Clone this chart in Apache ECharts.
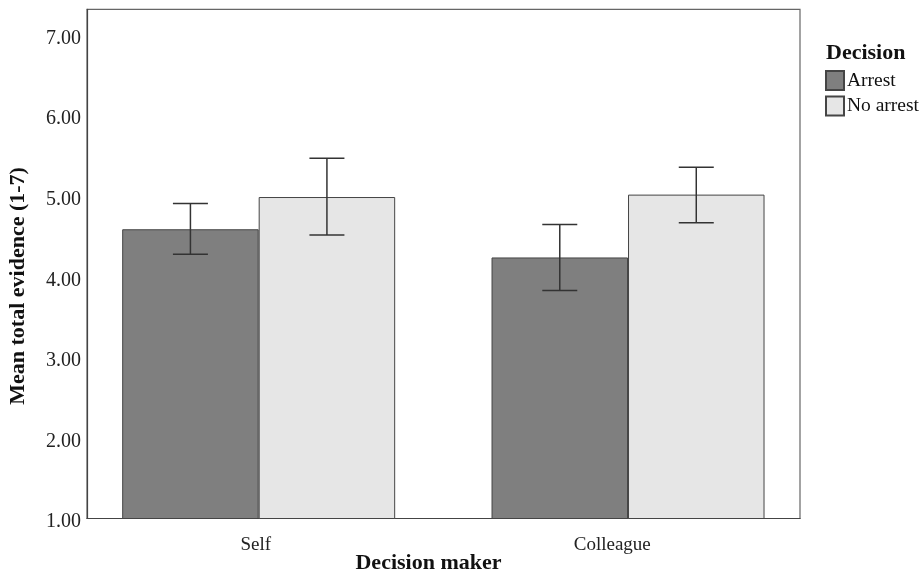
<!DOCTYPE html>
<html>
<head>
<meta charset="utf-8">
<script src="https://cdn.jsdelivr.net/npm/echarts@6/dist/echarts.min.js"></script>
<style>html,body{margin:0;padding:0;background:#fff;}#c{width:924px;height:574px;}</style>
</head>
<body>
<div id="c"></div>
<script>
const categories = ['Self', 'Colleague'];
const seriesNames = ['Arrest', 'No arrest'];
const arrestMean = [4.59, 4.24];
const arrestLow = [4.28, 3.83];
const arrestHigh = [4.91, 4.65];
const noArrestMean = [4.99, 5.02];
const noArrestLow = [4.52, 4.67];
const noArrestHigh = [5.47, 5.36];
const yMin = 1, yMax = 7.32, yInterval = 1;

const FONT = 'Liberation Serif';
const BAR_W = 136.5;

function errSeries(name, low, high, sign) {
  return {
    type: 'custom', name: name + ' err', xAxisIndex: 1, yAxisIndex: 1, z: 5,
    data: low.map((l, i) => [i, l, high[i]]),
    renderItem: function (params, api) {
      const lo = api.coord([api.value(0), api.value(1)]);
      const hi = api.coord([api.value(0), api.value(2)]);
      const x = lo[0] + sign * BAR_W / 2;
      const cap = 17.5;
      const st = { stroke: '#333', lineWidth: 1.5 };
      return { type: 'group', children: [
        { type: 'line', shape: { x1: x, y1: lo[1], x2: x, y2: hi[1] }, style: st },
        { type: 'line', shape: { x1: x - cap, y1: lo[1], x2: x + cap, y2: lo[1] }, style: st },
        { type: 'line', shape: { x1: x - cap, y1: hi[1], x2: x + cap, y2: hi[1] }, style: st }
      ]};
    }
  };
}

const chart = echarts.init(document.getElementById('c'), null, { renderer: 'canvas' });
chart.setOption({
  animation: false,
  backgroundColor: '#fff',
  textStyle: { fontFamily: FONT },
  title: {
    text: 'Decision', left: 826, top: 42, padding: 0,
    textStyle: { fontFamily: FONT, fontWeight: 'bold', fontSize: 22, color: '#111' }
  },
  legend: {
    data: seriesNames, orient: 'vertical', left: 825, top: 70,
    itemWidth: 18, itemHeight: 19, itemGap: 4.5, padding: 0,
    icon: 'rect',
    textStyle: { fontFamily: FONT, fontSize: 19.5, color: '#111', padding: [0, 0, 0, -2] }
  },
  grid: [
    { left: 87, right: 124, top: 9.3, bottom: 55.5, show: true, borderColor: '#666', borderWidth: 1.2,
      backgroundColor: 'transparent', containLabel: false, outerBoundsMode: 'none' },
    { left: 74, right: 111.3, top: 9.3, bottom: 55.5, show: false, containLabel: false, outerBoundsMode: 'none' }
  ],
  xAxis: [
    {
      type: 'category', gridIndex: 0, data: categories,
      axisLine: { lineStyle: { color: '#444', width: 1.2 } },
      axisTick: { show: false },
      axisLabel: { fontFamily: FONT, fontSize: 19, color: '#222', margin: 17, padding: [0, 19, 0, 0] },
      name: 'Decision maker', nameLocation: 'middle', nameGap: 34, nameMoveOverlap: false,
      nameTextStyle: { fontFamily: FONT, fontWeight: 'bold', fontSize: 22, color: '#111', padding: [0, 30, 0, 0] }
    },
    {
      type: 'category', gridIndex: 1, data: categories,
      axisLine: { show: false }, axisTick: { show: false }, axisLabel: { show: false }
    }
  ],
  yAxis: [
    {
      type: 'value', gridIndex: 0, min: yMin, max: yMax, interval: yInterval,
      axisLine: { show: true, lineStyle: { color: '#444', width: 1.2 } },
      axisTick: { show: false }, splitLine: { show: false },
      axisLabel: { fontFamily: FONT, fontSize: 20, color: '#222', margin: 6, showMaxLabel: false,
        formatter: v => '{t|' + v.toFixed(2) + '}',
        rich: { t: { fontFamily: FONT, fontSize: 20, color: '#222', padding: [7, 0, 0, 0] } } },
      name: 'Mean total evidence (1-7)', nameLocation: 'middle', nameRotate: 90, nameGap: 58, nameMoveOverlap: false,
      nameTextStyle: { fontFamily: FONT, fontWeight: 'bold', fontSize: 22, color: '#111', padding: [0, 44, 0, 0] }
    },
    {
      type: 'value', gridIndex: 1, min: yMin, max: yMax, interval: yInterval, show: false
    }
  ],
  series: [
    {
      type: 'bar', name: seriesNames[0], xAxisIndex: 1, yAxisIndex: 1,
      data: arrestMean, barWidth: BAR_W, barGap: '0%',
      itemStyle: { color: '#7f7f7f', borderColor: '#454545', borderWidth: 1 }
    },
    {
      type: 'bar', name: seriesNames[1], xAxisIndex: 1, yAxisIndex: 1,
      data: noArrestMean, barWidth: BAR_W, barGap: '0%',
      itemStyle: { color: '#e6e6e6', borderColor: '#454545', borderWidth: 1 }
    },
    errSeries('Arrest', arrestLow, arrestHigh, -1),
    errSeries('No arrest', noArrestLow, noArrestHigh, 1)
  ]
});
</script>
</body>
</html>
